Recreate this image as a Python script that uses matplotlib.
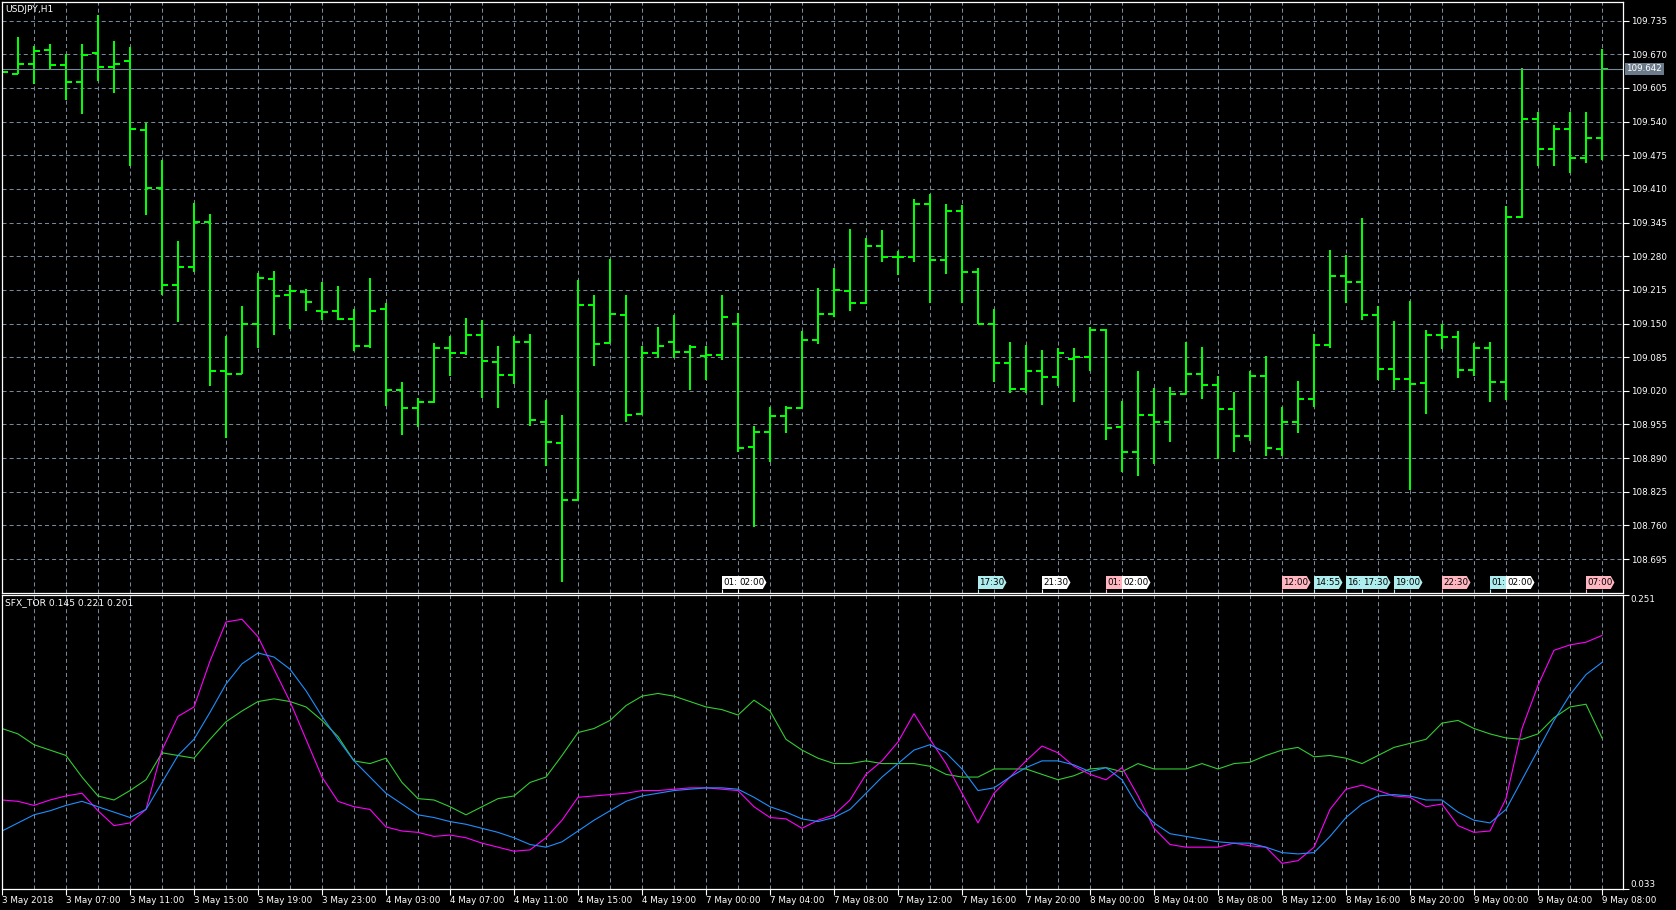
import numpy as np
import matplotlib
matplotlib.use("Agg")
import matplotlib.pyplot as plt
from matplotlib.patches import Polygon
from matplotlib.transforms import blended_transform_factory

symbol = "USDJPY,H1"
last_price = 109.642

# hourly bars, 3 May 03:00 .. 9 May 08:00
opens = [109.636, 109.632, 109.652, 109.678, 109.649, 109.616, 109.673, 109.645, 109.658, 109.523,
         109.412, 109.224, 109.260, 109.347, 109.059, 109.052, 109.150, 109.237, 109.205, 109.211,
         109.175, 109.174, 109.158, 109.107, 109.178, 109.022, 108.986, 108.998, 109.103, 109.094,
         109.127, 109.076, 109.051, 109.115, 108.960, 108.920, 108.810, 109.186, 109.112, 109.167,
         108.976, 109.093, 109.115, 109.095, 109.088, 109.089, 109.150, 108.911, 108.940, 108.971,
         108.987, 109.119, 109.169, 109.213, 109.189, 109.299, 109.279, 109.279, 109.381, 109.272,
         109.368, 109.249, 109.150, 109.074, 109.023, 109.059, 109.047, 109.081, 109.085, 109.138,
         108.950, 108.901, 108.974, 108.960, 109.014, 109.053, 109.031, 108.985, 108.932, 109.049,
         108.908, 108.960, 109.005, 109.108, 109.241, 109.231, 109.167, 109.062, 109.043, 109.036,
         109.128, 109.124, 109.061, 109.102, 109.037, 109.356, 109.546, 109.488, 109.526, 109.469,
         109.509]
highs = [109.651, 109.703, 109.687, 109.690, 109.670, 109.690, 109.746, 109.696, 109.684, 109.537,
         109.466, 109.310, 109.382, 109.361, 109.126, 109.184, 109.247, 109.252, 109.225, 109.216,
         109.230, 109.223, 109.179, 109.238, 109.189, 109.037, 109.006, 109.112, 109.125, 109.161,
         109.157, 109.106, 109.126, 109.130, 109.003, 108.973, 109.235, 109.206, 109.274, 109.205,
         109.107, 109.144, 109.167, 109.108, 109.107, 109.205, 109.170, 108.952, 108.989, 108.990,
         109.136, 109.218, 109.258, 109.333, 109.315, 109.331, 109.291, 109.390, 109.401, 109.381,
         109.379, 109.258, 109.179, 109.114, 109.109, 109.099, 109.102, 109.103, 109.144, 109.139,
         109.001, 109.059, 109.026, 109.027, 109.114, 109.105, 109.049, 109.018, 109.058, 109.087,
         108.988, 109.039, 109.130, 109.293, 109.283, 109.354, 109.184, 109.154, 109.194, 109.137,
         109.150, 109.136, 109.112, 109.115, 109.378, 109.643, 109.558, 109.533, 109.558, 109.559,
         109.681]
lows = [109.621, 109.632, 109.613, 109.639, 109.582, 109.555, 109.619, 109.595, 109.454, 109.359,
        109.206, 109.153, 109.249, 109.029, 108.928, 109.052, 109.102, 109.128, 109.139, 109.174,
        109.156, 109.156, 109.096, 109.102, 108.990, 108.934, 108.951, 108.996, 109.048, 109.090,
        109.006, 108.986, 109.034, 108.952, 108.874, 108.651, 108.810, 109.068, 109.112, 108.959,
        108.974, 109.084, 109.084, 109.022, 109.041, 109.080, 108.901, 108.757, 108.883, 108.938,
        108.987, 109.110, 109.162, 109.174, 109.187, 109.268, 109.243, 109.268, 109.189, 109.245,
        109.189, 109.150, 109.037, 109.015, 109.015, 108.992, 109.029, 108.998, 109.059, 108.926,
        108.864, 108.855, 108.879, 108.921, 109.014, 109.005, 108.888, 108.901, 108.924, 108.895,
        108.895, 108.938, 108.988, 109.103, 109.189, 109.156, 109.040, 109.022, 108.829, 108.976,
        109.100, 109.044, 109.049, 108.998, 109.002, 109.354, 109.454, 109.455, 109.440, 109.461,
        109.466]
closes = [109.636, 109.652, 109.676, 109.650, 109.616, 109.669, 109.646, 109.652, 109.525, 109.412,
          109.224, 109.260, 109.347, 109.059, 109.052, 109.150, 109.238, 109.203, 109.212, 109.191,
          109.172, 109.158, 109.107, 109.175, 109.022, 108.987, 108.999, 109.103, 109.094, 109.128,
          109.078, 109.051, 109.115, 108.963, 108.922, 108.809, 109.186, 109.110, 109.168, 108.974,
          109.093, 109.107, 109.095, 109.105, 109.089, 109.162, 108.910, 108.940, 108.971, 108.987,
          109.119, 109.169, 109.215, 109.190, 109.300, 109.279, 109.279, 109.381, 109.272, 109.367,
          109.249, 109.150, 109.074, 109.023, 109.059, 109.047, 109.093, 109.085, 109.138, 108.949,
          108.901, 108.974, 108.960, 109.014, 109.053, 109.031, 108.985, 108.932, 109.049, 108.910,
          108.960, 109.005, 109.108, 109.242, 109.231, 109.167, 109.062, 109.042, 109.033, 109.128,
          109.124, 109.061, 109.102, 109.037, 109.356, 109.546, 109.488, 109.526, 109.469, 109.509,
          109.642]

# SFX_TOR indicator buffers
tor_green = [0.152, 0.148, 0.140, 0.136, 0.132, 0.116, 0.102, 0.099, 0.106, 0.114,
             0.134, 0.132, 0.130, 0.144, 0.157, 0.165, 0.172, 0.174, 0.172, 0.168,
             0.158, 0.146, 0.128, 0.126, 0.130, 0.112, 0.100, 0.099, 0.094, 0.088,
             0.094, 0.100, 0.102, 0.112, 0.116, 0.132, 0.149, 0.152, 0.158, 0.169,
             0.176, 0.178, 0.176, 0.172, 0.168, 0.166, 0.162, 0.173, 0.165, 0.144,
             0.136, 0.130, 0.126, 0.126, 0.128, 0.126, 0.126, 0.126, 0.124, 0.118,
             0.116, 0.116, 0.122, 0.122, 0.122, 0.118, 0.114, 0.117, 0.122, 0.123,
             0.120, 0.126, 0.122, 0.122, 0.122, 0.126, 0.122, 0.126, 0.127, 0.132,
             0.136, 0.138, 0.131, 0.132, 0.130, 0.126, 0.132, 0.138, 0.141, 0.144,
             0.156, 0.158, 0.152, 0.148, 0.145, 0.144, 0.148, 0.160, 0.168, 0.170,
             0.145]
tor_magenta = [0.099, 0.098, 0.095, 0.099, 0.102, 0.104, 0.091, 0.080, 0.082, 0.092,
               0.136, 0.161, 0.168, 0.202, 0.231, 0.233, 0.220, 0.196, 0.172, 0.144,
               0.116, 0.098, 0.094, 0.092, 0.079, 0.076, 0.075, 0.072, 0.073, 0.071,
               0.067, 0.064, 0.061, 0.062, 0.071, 0.084, 0.101, 0.102, 0.103, 0.104,
               0.106, 0.106, 0.107, 0.108, 0.108, 0.107, 0.106, 0.094, 0.086, 0.085,
               0.078, 0.084, 0.088, 0.099, 0.118, 0.128, 0.142, 0.163, 0.144, 0.126,
               0.104, 0.082, 0.104, 0.116, 0.128, 0.139, 0.134, 0.124, 0.118, 0.114,
               0.123, 0.102, 0.078, 0.066, 0.064, 0.064, 0.064, 0.067, 0.065, 0.064,
               0.052, 0.054, 0.064, 0.092, 0.107, 0.110, 0.106, 0.102, 0.101, 0.094,
               0.096, 0.080, 0.075, 0.076, 0.100, 0.152, 0.184, 0.210, 0.214, 0.216,
               0.221]
tor_blue = [0.076, 0.082, 0.088, 0.091, 0.095, 0.098, 0.094, 0.090, 0.086, 0.092,
            0.112, 0.132, 0.144, 0.164, 0.185, 0.200, 0.208, 0.205, 0.196, 0.180,
            0.161, 0.144, 0.128, 0.116, 0.104, 0.096, 0.088, 0.086, 0.083, 0.081,
            0.078, 0.075, 0.071, 0.066, 0.064, 0.068, 0.076, 0.084, 0.091, 0.098,
            0.102, 0.104, 0.106, 0.107, 0.108, 0.108, 0.107, 0.101, 0.094, 0.090,
            0.085, 0.083, 0.086, 0.092, 0.104, 0.116, 0.126, 0.136, 0.140, 0.134,
            0.122, 0.106, 0.108, 0.116, 0.123, 0.128, 0.128, 0.125, 0.120, 0.123,
            0.114, 0.094, 0.082, 0.074, 0.072, 0.070, 0.068, 0.067, 0.067, 0.064,
            0.060, 0.059, 0.060, 0.072, 0.086, 0.096, 0.102, 0.103, 0.102, 0.099,
            0.099, 0.090, 0.084, 0.082, 0.092, 0.114, 0.136, 0.158, 0.177, 0.192,
            0.201]
tor_min, tor_max = 0.033, 0.251

time_labels = ["3 May 2018", "3 May 07:00", "3 May 11:00", "3 May 15:00", "3 May 19:00",
               "3 May 23:00", "4 May 03:00", "4 May 07:00", "4 May 11:00", "4 May 15:00",
               "4 May 19:00", "7 May 00:00", "7 May 04:00", "7 May 08:00", "7 May 12:00",
               "7 May 16:00", "7 May 20:00", "8 May 00:00", "8 May 04:00", "8 May 08:00",
               "8 May 12:00", "8 May 16:00", "8 May 20:00", "9 May 00:00", "9 May 04:00",
               "9 May 08:00"]

# calendar events (bar index, time, importance colour)
event_bars = [45, 46, 61, 65, 69, 70, 80, 82, 84, 85, 87, 90, 93, 94, 99]
event_times = ["01:00", "02:00", "17:30", "21:30", "01:00", "02:00", "12:00", "14:55",
               "16:00", "17:30", "19:00", "22:30", "01:00", "02:00", "07:00"]
event_kind = ["w", "w", "c", "w", "p", "w", "p", "c", "c", "c", "c", "p", "c", "w", "p"]
kind_col = {"w": "#ffffff", "c": "#afeeee", "p": "#ffb6c1"}

plt.rcParams['font.family'] = ['DejaVu Sans']
plt.rcParams['lines.scale_dashes'] = False
FS = 6.3
GRID = '#778899'
dash = (0, (2.9, 2.2))

W, H = 1676, 910
fig = plt.figure(figsize=(W / 100, H / 100), dpi=100, facecolor='black')
ax = fig.add_axes([2 / W, 1 - 593 / H, 1621 / W, 591 / H])
ax2 = fig.add_axes([2 / W, 1 - 889 / H, 1621 / W, 294 / H])

x = np.arange(len(opens))
xmax = 1621 / 16

for a in (ax, ax2):
    a.set_facecolor('black')
    for s in a.spines.values():
        s.set_color('white')
        s.set_linewidth(0.9)
    a.set_xlim(0, xmax)
    a.set_xticks(np.arange(0, len(x), 4))
    a.set_xticks(np.arange(0, len(x), 2), minor=True)
    a.xaxis.grid(True, which='both', color=GRID, lw=0.75, ls=dash)
    a.tick_params(axis='x', which='minor', length=0)
    a.yaxis.tick_right()
    a.tick_params(axis='y', colors='white', labelsize=FS, length=4, width=0.8, pad=1.5)

# price panel
ax.vlines(x, lows, highs, color='#00ff00', lw=1.45)
ax.hlines(opens, x - 0.36, x, color='#00ff00', lw=1.45)
ax.hlines(closes, x, x + 0.36, color='#00ff00', lw=1.45)
ax.set_ylim(108.6295, 109.7711)
yt = np.round(np.arange(108.695, 109.74, 0.065), 3)
ax.set_yticks(yt)
ax.set_yticklabels(["%.3f" % v for v in yt])
ax.yaxis.grid(True, color=GRID, lw=0.75, ls=dash)
ax.tick_params(axis='x', which='major', length=0, labelbottom=False)
ax.axhline(last_price, color=GRID, lw=0.8)
bt = blended_transform_factory(ax.transAxes, ax.transData)
ax.text(1.002, last_price, "%.3f" % last_price, transform=bt, color='white', fontsize=FS,
        va='center', ha='left', clip_on=False,
        bbox=dict(boxstyle='square,pad=0.18', fc='#6c7b8b', ec='none'))
fig.text(5 / W, 1 - 9 / H, symbol, color='white', fontsize=FS + 0.3, va='center', ha='left')

# event flags along the bottom; a flag covered by the next one only shows its hour
et = blended_transform_factory(ax.transData, ax.transAxes)
yb, yt_, ym = 4 / 591, 17 / 591, 10.5 / 591
for k, (b, t, kd) in enumerate(zip(event_bars, event_times, event_kind)):
    c = kind_col[kd]
    z = 10 + 2 * k
    ax.plot([b, b], [0, yb], color=c, lw=0.8, transform=et, zorder=z, solid_capstyle='butt')
    poly = Polygon([(b, yb), (b, yt_), (b + 1.55, yt_), (b + 1.78, ym), (b + 1.55, yb)],
                   closed=True, fc=c, ec='none', transform=et, zorder=z)
    ax.add_patch(poly)
    covered = any(b < e < b + 1.55 for e in event_bars)
    label = t[:3] if covered else t
    ax.text(b + 0.08, ym, label, color='black', fontsize=FS, va='center', ha='left',
            transform=et, zorder=z + 1)

# indicator panel
ax2.plot(x, tor_green, color='#32cd32', lw=0.8)
ax2.plot(x, tor_magenta, color='#ff00ff', lw=0.8)
ax2.plot(x, tor_blue, color='#1e90ff', lw=0.8)
ax2.set_ylim(tor_min, tor_max)
ax2.set_yticks([tor_min, tor_max])
ax2.set_yticklabels(["%.3f" % tor_min, "%.3f" % tor_max])
labs = ax2.get_yticklabels()
labs[0].set_va('bottom')
labs[1].set_va('top')
ax2.set_xticklabels(time_labels, ha='left')
ax2.tick_params(axis='x', which='major', colors='white', labelsize=FS, length=4,
                width=0.8, pad=0.8)
fig.text(5 / W, 1 - 603 / H, "SFX_TOR %.3f %.3f %.3f" % (tor_green[-1], tor_magenta[-1], tor_blue[-1]),
         color='white', fontsize=FS + 0.3, va='center', ha='left')

fig.savefig("out.png", dpi=100, facecolor='black')
